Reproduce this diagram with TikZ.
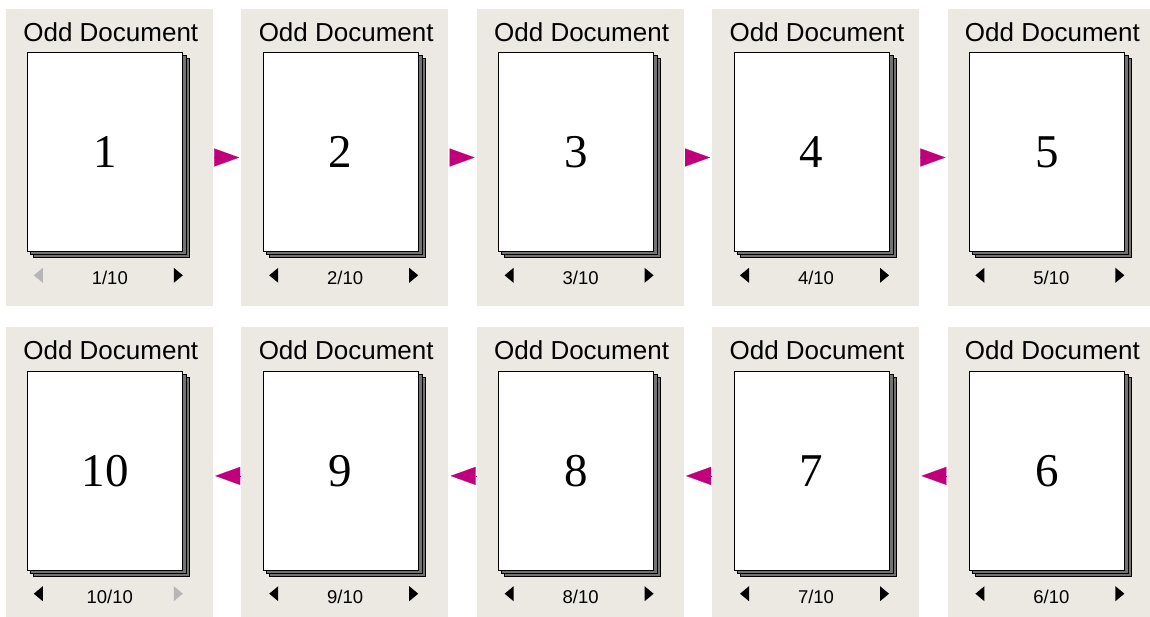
\documentclass[tikz,border=0pt]{standalone}
\usepackage{fontspec}
\setmainfont{Liberation Serif}
\setsansfont{Liberation Sans}
\usetikzlibrary{arrows.meta,positioning,calc}
\definecolor{panelbg}{RGB}{236,233,226}
\definecolor{flowpink}{RGB}{192,0,122}
\definecolor{navoff}{RGB}{182,182,182}

\begin{document}
\begin{tikzpicture}[x=1pt,y=-1pt,
  panel/.style={fill=panelbg,minimum width=207pt,minimum height=297pt,inner sep=0pt},
  sheet/.style={draw=black,line width=1pt,fill=white},
  backsheet/.style={draw=black,line width=0.8pt,fill=black!55},
  flow/.style={-{Triangle[length=25pt,width=18pt]},flowpink,line width=0.1pt,shorten >=2pt,shorten <=1pt},
  doctitle/.style={font=\sffamily\fontsize{26}{26}\selectfont,inner sep=0pt},
  bignum/.style={font=\fontsize{47}{47}\selectfont,inner sep=0pt},
  navtext/.style={font=\sffamily\fontsize{18.5}{18.5}\selectfont,inner sep=0pt}]
  \useasboundingbox (0,0) rectangle (1150,616);
  \clip (0,0) rectangle (1150,616);
  % top row, left to right
  \node[panel] (p1) at (109.5,157.5) {};
  \node[panel,right=28pt of p1] (p2) {};
  \node[panel,right=28pt of p2] (p3) {};
  \node[panel,right=28pt of p3] (p4) {};
  \node[panel,right=28pt of p4] (p5) {};
  % bottom row, right to left
  \node[panel,below=21pt of p5] (p6) {};
  \node[panel,left=28pt of p6] (p7) {};
  \node[panel,left=28pt of p7] (p8) {};
  \node[panel,left=28pt of p8] (p9) {};
  \node[panel,left=28pt of p9] (p10) {};
  \foreach \p/\n/\lc/\rc in {p1/1/navoff/black,p2/2/black/black,p3/3/black/black,
      p4/4/black/black,p5/5/black/black,p6/6/black/black,p7/7/black/black,
      p8/8/black/black,p9/9/black/black,p10/10/black/navoff}{
    \begin{scope}[shift={(\p.north west)}]
      \node[doctitle] (\p-title) at (105,23) {Odd Document};
      \draw[backsheet] (28,50) rectangle (184,249);
      \draw[backsheet] (25,47) rectangle (181,246);
      \draw[sheet] (22,44) rectangle (177,243);
      \node[bignum] (\p-num) at (99.5,143.5) {\n};
      \fill[\lc] (28,266.5) -- (37,259) -- (37,274) -- cycle;
      \fill[\rc] (177,266.5) -- (168,259) -- (168,274) -- cycle;
      \node[navtext] (\p-nav) at (104,269.5) {\n/10};
    \end{scope}
  }
  \draw[flow] (p1) -- (p2);
  \draw[flow] (p2) -- (p3);
  \draw[flow] (p3) -- (p4);
  \draw[flow] (p4) -- (p5);
  \draw[flow] (p6) -- (p7);
  \draw[flow] (p7) -- (p8);
  \draw[flow] (p8) -- (p9);
  \draw[flow] (p9) -- (p10);
\end{tikzpicture}
\end{document}
